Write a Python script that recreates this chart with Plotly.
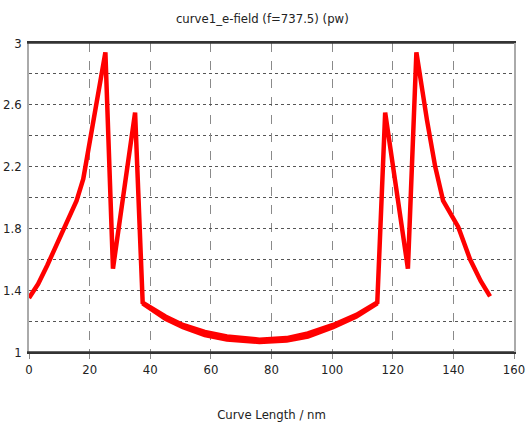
import plotly.graph_objects as go

# Curve data
curve_length = [0, 3, 6, 9, 12, 15.7, 17.9, 20.5, 25.2, 27.7, 35.0, 37.5,
                45, 50.8, 58, 65.3, 76, 85, 92, 100.3, 108, 114.9,
                117.5, 125, 127.8, 131.3, 134, 136.6, 141.6, 145.5, 149, 152.1]
e_field = [1.35, 1.44, 1.56, 1.69, 1.81, 1.98, 2.12, 2.40, 2.94, 1.54, 2.55, 1.32,
           1.23, 1.175, 1.13, 1.10, 1.08, 1.09, 1.12, 1.175, 1.24, 1.32,
           2.55, 1.54, 2.94, 2.50, 2.20, 1.98, 1.81, 1.60, 1.46, 1.36]

# lower edge of the thick bowl band in the middle
bowl_x = [37.5, 45, 50.8, 58, 65.3, 76, 85, 92, 100.3, 108, 114.9]
bowl_y = [1.315, 1.215, 1.16, 1.11, 1.08, 1.065, 1.075, 1.10, 1.16, 1.23, 1.315]

title_text = "curve1_e-field (f=737.5) (pw)"
x_title = "Curve Length / nm"
x_ticks = [0, 20, 40, 60, 80, 100, 120, 140, 160]
y_ticks = [1, 1.4, 1.8, 2.2, 2.6, 3]
y_tick_text = ["1", "1.4", "1.8", "2.2", "2.6", "3"]

font_family = "Liberation Sans Narrow, Arial Narrow, DejaVu Sans Condensed, sans-serif"

fig = go.Figure()
fig.add_trace(go.Scatter(x=bowl_x, y=bowl_y, mode="lines",
                         line=dict(color="#ff0000", width=4.5), hoverinfo="skip"))
fig.add_trace(go.Scatter(x=curve_length, y=e_field, mode="lines",
                         line=dict(color="#ff0000", width=4.5)))

fig.update_layout(
    width=531, height=432,
    margin=dict(l=29, r=17, t=43, b=80, autoexpand=False),
    paper_bgcolor="white", plot_bgcolor="white",
    showlegend=False,
    font=dict(family=font_family, size=13, color="#222222"),
    title=dict(text=title_text, x=0.494, xanchor="center", y=0.958, yanchor="middle",
               font=dict(family=font_family, size=13, color="#222222")),
)
fig.update_xaxes(
    range=[0, 160], tickvals=x_ticks, ticktext=[str(v) for v in x_ticks],
    showgrid=True, gridcolor="#8a8a8a", griddash="dash", gridwidth=1,
    showline=True, linecolor="#333333", linewidth=1.5, mirror=True,
    ticks="outside", ticklen=5, tickcolor="#8a8a8a",
    zeroline=False, automargin=False,
    title=dict(text=x_title, standoff=34, font=dict(size=13)),
    tickfont=dict(size=13),
)
fig.update_yaxes(
    range=[1, 3], tickvals=y_ticks, ticktext=y_tick_text,
    showgrid=True, gridcolor="#555555", griddash="dot", gridwidth=1,
    minor=dict(dtick=0.2, tick0=1, showgrid=True, gridcolor="#555555", griddash="dot", gridwidth=1),
    showline=True, linecolor="#aaaaaa", linewidth=1.5, mirror=True,
    ticks="", zeroline=False, automargin=False, ticklabelstandoff=3,
    tickfont=dict(size=13),
)
# solid dark border lines at y=1 and y=3 (over the gray mirrored y lines)
fig.add_shape(type="line", xref="paper", yref="y", x0=-0.004, x1=1, y0=1, y1=1,
              line=dict(color="#333333", width=1.5))
fig.add_shape(type="line", xref="paper", yref="y", x0=-0.004, x1=1, y0=3, y1=3,
              line=dict(color="#333333", width=1.5))

fig.write_html("out.html", config={"displayModeBar": False},
               post_script="document.body.style.margin='0';")
